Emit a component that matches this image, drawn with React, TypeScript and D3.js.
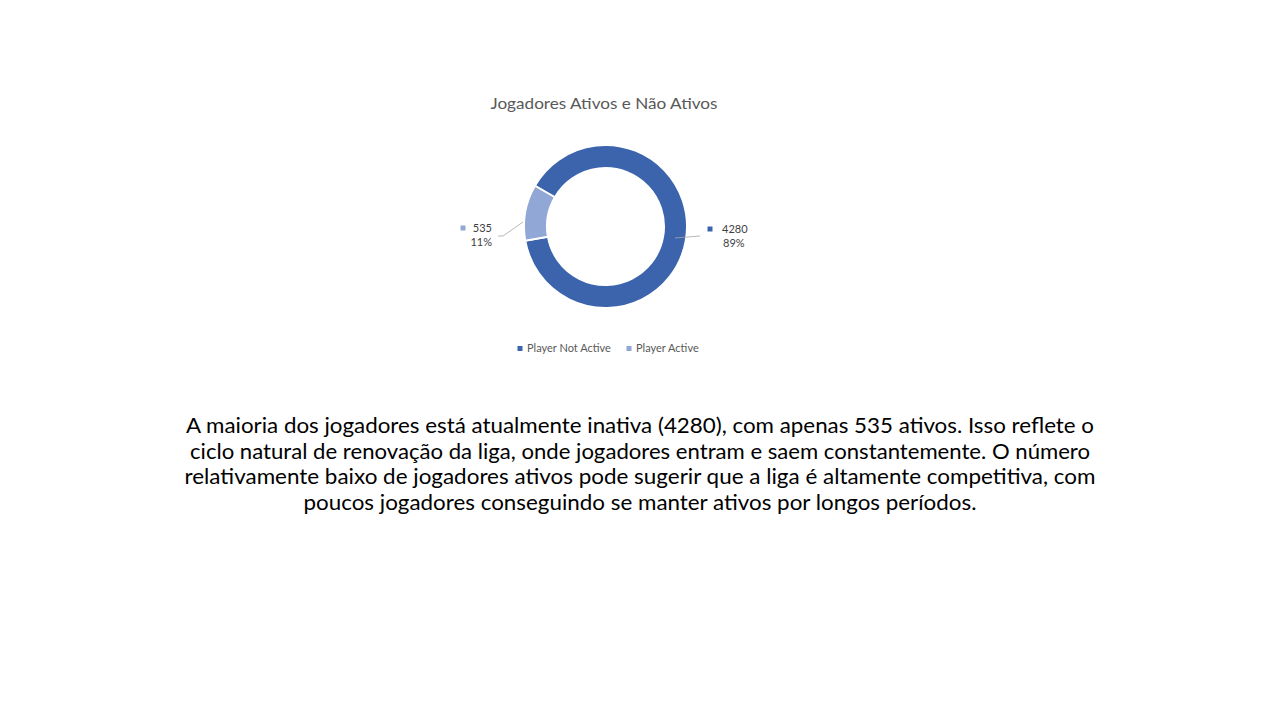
import React, { useEffect, useRef } from 'react'
import * as d3 from 'd3'

const categories = ['Player Not Active', 'Player Active']
const values = [4280, 535]
const percentLabels = ['89%', '11%']
const colors = ['#3b64ad', '#91a7d6']
const title = 'Jogadores Ativos e Não Ativos'
const paragraph = [
  'A maioria dos jogadores está atualmente inativa (4280), com apenas 535 ativos. Isso reflete o',
  'ciclo natural de renovação da liga, onde jogadores entram e saem constantemente. O número',
  'relativamente baixo de jogadores ativos pode sugerir que a liga é altamente competitiva, com',
  'poucos jogadores conseguindo se manter ativos por longos períodos.',
]
const paragraphWidths = [908, 900, 911, 673]

const FONT = 'Lato, "Open Sans", sans-serif'

function App() {
  const svgRef = useRef<SVGSVGElement>(null)

  useEffect(() => {
    const svg = d3.select(svgRef.current)
    svg.selectAll('*').remove()

    const cx = 605.5
    const cy = 226.5
    const outerR = 81.5
    const innerR = 58.5

    // title
    svg.append('text')
      .attr('x', 604)
      .attr('y', 109)
      .attr('text-anchor', 'middle')
      .style('font-family', FONT)
      .style('font-size', '16px')
      .attr('textLength', 227)
      .attr('lengthAdjust', 'spacingAndGlyphs')
      .style('fill', '#595959')
      .text(title)

    // donut
    const pie = d3.pie<number>()
      .sort(null)
      .startAngle(-Math.PI / 3)
      .endAngle(2 * Math.PI - Math.PI / 3)
    const arcs = pie(values)
    const arc = d3.arc<d3.PieArcDatum<number>>()
      .innerRadius(innerR)
      .outerRadius(outerR)

    const g = svg.append('g').attr('transform', `translate(${cx},${cy})`)
    g.selectAll('path')
      .data(arcs)
      .enter()
      .append('path')
      .attr('d', arc)
      .style('fill', (d, i) => colors[i])
      .style('stroke', '#fff')
      .style('stroke-width', 2)

    // data labels with leader lines
    const labelPos = [
      { sq: [710, 229], tx: 722, anchor: 'start', line: [[675, 238], [700, 236]] },
      { sq: [463, 228], tx: 492, anchor: 'end', line: [[523, 222], [503, 236], [498, 236]] },
    ]
    arcs.forEach((a, i) => {
      const p = labelPos[i]
      svg.append('path')
        .attr('d', d3.line()(p.line as [number, number][]))
        .style('fill', 'none')
        .style('stroke', '#a6a6a6')
        .style('stroke-width', 0.8)
      svg.append('rect')
        .attr('x', p.sq[0] - 2.5)
        .attr('y', p.sq[1] - 2.5)
        .attr('width', 5)
        .attr('height', 5)
        .style('fill', colors[i])
      svg.append('text')
        .attr('x', p.tx)
        .attr('y', p.sq[1] + 4)
        .attr('text-anchor', p.anchor)
        .style('font-family', FONT)
        .style('font-size', '11px')
        .style('fill', '#404040')
        .text(d3.format('d')(a.data))
      svg.append('text')
        .attr('x', i === 0 ? p.tx + 1 : p.tx)
        .attr('y', p.sq[1] + 18)
        .attr('text-anchor', p.anchor)
        .style('font-family', FONT)
        .style('font-size', '11px')
        .style('fill', '#404040')
        .text(percentLabels[i])
    })

    // legend
    const legendX = [520, 629]
    categories.forEach((c, i) => {
      svg.append('rect')
        .attr('x', legendX[i] - 2.5)
        .attr('y', 346)
        .attr('width', 5)
        .attr('height', 5)
        .style('fill', colors[i])
      svg.append('text')
        .attr('x', legendX[i] + 7)
        .attr('y', 352)
        .style('font-family', FONT)
        .style('font-size', '11px')
        .style('fill', '#595959')
        .text(c)
    })

    // paragraph
    paragraph.forEach((line, i) => {
      svg.append('text')
        .attr('x', 640)
        .attr('y', 433 + i * 25.5)
        .attr('text-anchor', 'middle')
        .style('font-family', FONT)
        .style('font-size', '22px')
        .style('fill', '#000')
        .attr('textLength', paragraphWidths[i])
        .attr('lengthAdjust', 'spacingAndGlyphs')
        .text(line)
    })
  }, [])

  return (
    <svg
      ref={svgRef}
      width={1280}
      height={720}
      style={{ position: 'absolute', left: 0, top: 0, background: '#fff' }}
    />
  )
}

export default App
